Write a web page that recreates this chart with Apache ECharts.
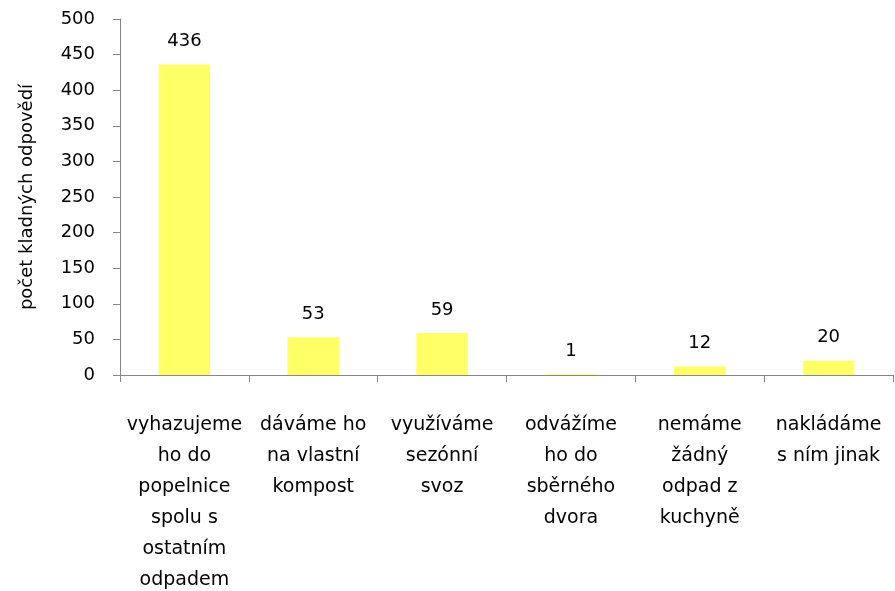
<!DOCTYPE html>
<html>
<head>
<meta charset="utf-8">
<script src="https://cdn.jsdelivr.net/npm/echarts@6/dist/echarts.min.js"></script>
<style>
html, body { margin: 0; padding: 0; background: #fff; }
#chart { width: 895px; height: 591px; }
</style>
</head>
<body>
<div id="chart"></div>
<script>
// kategorie (zalomené jako v originále)
var categories = [
    'vyhazujeme\nho do\npopelnice\nspolu s\nostatním\nodpadem',
    'dáváme ho\nna vlastní\nkompost',
    'využíváme\nsezónní\nsvoz',
    'odvážíme\nho do\nsběrného\ndvora',
    'nemáme\nžádný\nodpad z\nkuchyně',
    'nakládáme\ns ním jinak'
];
var values = [436, 53, 59, 1, 12, 20];
var yTicks = { min: 0, max: 500, interval: 50 };
var yName = 'počet kladných odpovědí';

var font = "'DejaVu Sans', sans-serif";
var axisColor = '#868686';

var chart = echarts.init(document.getElementById('chart'));
chart.setOption({
    animation: false,
    grid: { left: 120, right: 2, top: 19, bottom: 216, containLabel: false, outerBoundsMode: 'none' },
    xAxis: {
        type: 'category',
        data: categories,
        axisLine: { lineStyle: { color: axisColor, width: 1 } },
        axisTick: { show: true, length: 7, inside: false, alignWithLabel: false, lineStyle: { color: axisColor } },
        axisLabel: {
            interval: 0,
            margin: 35,
            color: '#000',
            fontFamily: font,
            fontSize: 19,
            lineHeight: 31
        }
    },
    yAxis: {
        type: 'value',
        min: yTicks.min,
        max: yTicks.max,
        interval: yTicks.interval,
        name: yName,
        nameLocation: 'middle',
        nameGap: 84,
        nameRotate: 90,
        nameTextStyle: { color: '#000', fontFamily: font, fontSize: 18 },
        splitLine: { show: false },
        axisLine: { show: true, lineStyle: { color: axisColor, width: 1 } },
        axisTick: { show: true, length: 7, lineStyle: { color: axisColor } },
        axisLabel: { color: '#000', fontFamily: font, fontSize: 18, margin: 25 }
    },
    series: [{
        type: 'bar',
        data: values,
        barWidth: '40%',
        itemStyle: { color: '#FFFF66' },
        label: {
            show: true,
            position: 'top',
            distance: 14,
            color: '#000',
            fontFamily: font,
            fontSize: 18
        }
    }]
});
</script>
</body>
</html>
